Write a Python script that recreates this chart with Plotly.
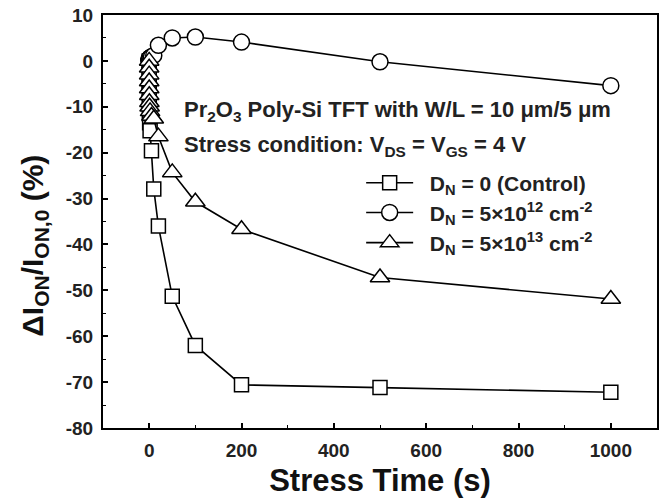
import plotly.graph_objects as go

# Stress time (s)
stress_time = [0, 0.01, 0.02, 0.05, 0.1, 0.2, 0.5, 1, 2, 5, 10, 20, 50, 100, 200, 500, 1000]

# Delta I_ON / I_ON,0 (%)
control = [0, -1.5, -3, -5, -7, -9, -11.5, -13.5, -15.2, -19.6, -27.9, -36.0, -51.3, -62.0, -70.6, -71.2, -72.2]
dn_5e12 = [0, 0, 0.1, 0.2, 0.3, 0.4, 0.5, 0.6, 0.7, 0.9, 1.2, 3.4, 5.0, 5.2, 4.1, -0.2, -5.4]
dn_5e13 = [0, -1.5, -3, -4.5, -6, -7.5, -9, -10, -11, -12, -12.6, -16.5, -24.3, -30.7, -36.7, -47.2, -51.9]

series_names = [
    "\u00a0\u00a0D<sub>N</sub> = 0 (Control)",
    "\u00a0\u00a0D<sub>N</sub> = 5×10<sup>12</sup> cm<sup>-2</sup>",
    "\u00a0\u00a0D<sub>N</sub> = 5×10<sup>13</sup> cm<sup>-2</sup>",
]
series_values = [control, dn_5e12, dn_5e13]
symbols = ["square", "circle", "triangle-up"]
marker_sizes = [14, 16, 17]

x_tickvals = [0, 200, 400, 600, 800, 1000]
y_tickvals = [-80, -70, -60, -50, -40, -30, -20, -10, 0, 10]

FONT = "Liberation Sans, Arial, sans-serif"
legend_keys = ["legend", "legend2", "legend3"]
legend_y = [0.593, 0.521, 0.448]

fig = go.Figure()
for name, vals, sym, ms, lk in zip(series_names, series_values, symbols, marker_sizes, legend_keys):
    fig.add_trace(go.Scatter(
        x=stress_time, y=vals, name=name, mode="lines+markers",
        line=dict(color="black", width=1.6),
        marker=dict(symbol=sym, size=ms, color="white",
                    line=dict(color="black", width=1.5)),
        legend=lk,
    ))

axis_common = dict(
    showline=True, linecolor="black", linewidth=2, mirror=True,
    ticks="inside", ticklen=5, tickwidth=1.5, tickcolor="black",
    showgrid=False, zeroline=False,
    tickfont=dict(family=FONT, size=19, color="#222", weight="bold"),
)

fig.update_xaxes(
    range=[-100, 1100], tickmode="array", tickvals=x_tickvals,
    ticktext=[str(v) for v in x_tickvals],
    ticklabelstandoff=4,
    minor=dict(ticks="inside", ticklen=3, tickwidth=1.2, tickcolor="black", dtick=100, tick0=0, showgrid=False),
    title=dict(text="Stress Time (s)", font=dict(family=FONT, size=31, color="#111", weight="bold"), standoff=10),
    automargin=False,
    **axis_common,
)
fig.update_yaxes(
    range=[-80, 10], tickmode="array", tickvals=y_tickvals,
    ticktext=[str(v) for v in y_tickvals],
    ticklabelstandoff=4,
    minor=dict(ticks="inside", ticklen=3, tickwidth=1.2, tickcolor="black", dtick=5, tick0=0, showgrid=False),
    automargin=False,
    **axis_common,
)

# y-axis title (placed as rotated text to match the reference position)
fig.add_annotation(
    x=-0.123, y=0.441, xref="paper", yref="paper", xanchor="center", yanchor="middle",
    text="ΔI<sub>ON</sub>/I<sub>ON,0</sub> (%)", textangle=-90,
    showarrow=False, font=dict(family=FONT, size=30, color="#111", weight="bold"),
)

fig.add_annotation(
    x=0.142, y=0.768, xref="paper", yref="paper", xanchor="left", yanchor="middle",
    text="Pr<sub>2</sub>O<sub>3</sub> Poly-Si TFT with W/L = 10 μm/5 μm",
    showarrow=False, font=dict(family=FONT, size=22, color="#222", weight="bold"),
)
fig.add_annotation(
    x=0.142, y=0.682, xref="paper", yref="paper", xanchor="left", yanchor="middle",
    text="Stress condition: V<sub>DS</sub> = V<sub>GS</sub> = 4 V",
    showarrow=False, font=dict(family=FONT, size=22, color="#222", weight="bold"),
)

legend_style = dict(
    x=0.466, xanchor="left", yanchor="middle",
    bgcolor="rgba(0,0,0,0)", borderwidth=0,
    font=dict(family=FONT, size=21, color="#222", weight="bold"),
    itemwidth=47,
)
layout_legends = {lk: dict(y=ly, **legend_style) for lk, ly in zip(legend_keys, legend_y)}

fig.update_layout(
    width=668, height=498,
    margin=dict(l=103, r=11, t=15, b=70),
    paper_bgcolor="white", plot_bgcolor="white",
    showlegend=True,
    **layout_legends,
)

fig.write_html("out.html")
